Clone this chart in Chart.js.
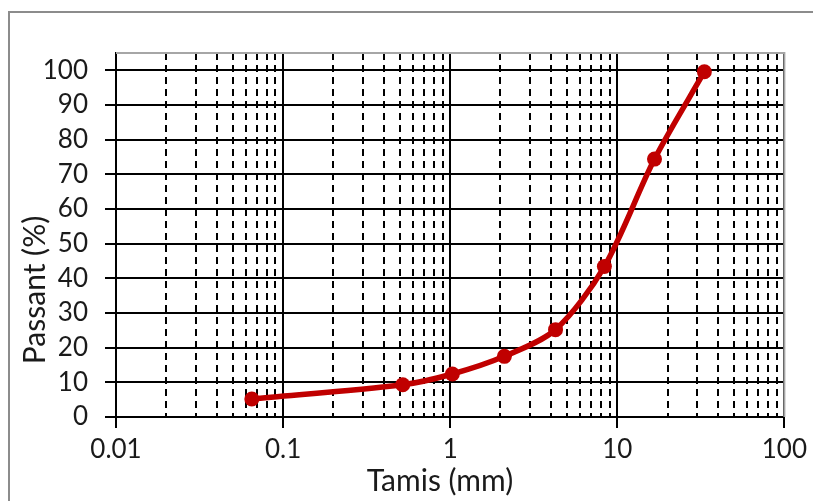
<!DOCTYPE html>
<html>
<head>
<meta charset="utf-8">
<script src="https://cdn.jsdelivr.net/npm/chart.js@4.4.1/dist/chart.umd.min.js"></script>
<style>
  body { margin: 0; background: #fff; }
  #wrap { position: relative; width: 813px; height: 501px; overflow: hidden; }
  #frame { position: absolute; left: 8px; top: 11px; width: 900px; height: 600px; border: 2px solid #8c8c8c; }
  canvas { position: absolute; left: 0; top: 0; }
</style>
</head>
<body>
<div id="wrap">
  <div id="frame"></div>
  <canvas id="chart" width="813" height="501"></canvas>
</div>
<script>
// sieve opening (mm) and percent passing
const sieveSizes = [0.065, 0.52, 1.03, 2.11, 4.27, 8.37, 16.7, 33.2];
const passing = [5.2, 9.3, 12.4, 17.5, 25.2, 43.4, 74.4, 99.6];
const xTickLabels = ['0.01', '0.1', '1', '10', '100'];
const yTicks = [0, 10, 20, 30, 40, 50, 60, 70, 80, 90, 100];

const decades = xTickLabels.map(Number);
const minorTicks = [];
decades.slice(0, -1).forEach(d => {
  for (let k = 2; k <= 9; k++) minorTicks.push(+(d * k).toPrecision(3));
});

const FONT = 'Lato, "Liberation Sans", sans-serif';
const TEXT = '#1a1a1a';

const plotFrame = {
  id: 'plotFrame',
  beforeDatasetsDraw(chart) {
    const { ctx, chartArea: { left, top, right, bottom } } = chart;
    ctx.save();
    ctx.strokeStyle = '#a6a6a6';
    ctx.lineWidth = 2;
    ctx.beginPath();
    ctx.moveTo(left, top);
    ctx.lineTo(right, top);
    ctx.lineTo(right, bottom);
    ctx.stroke();
    ctx.restore();
  },
  afterDraw(chart) {
    const ctx = chart.ctx;
    ctx.save();
    ctx.fillStyle = TEXT;
    ctx.font = '30px ' + FONT;
    ctx.textAlign = 'center';
    ctx.textBaseline = 'middle';
    ctx.fillText('Tamis (mm)', 440, 481);
    ctx.translate(35, 290);
    ctx.rotate(-Math.PI / 2);
    ctx.fillText('Passant (%)', 0, 0);
    ctx.restore();
  }
};

new Chart(document.getElementById('chart'), {
  type: 'scatter',
  data: {
    datasets: [{
      data: sieveSizes.map((x, i) => ({ x, y: passing[i] })),
      showLine: true,
      borderColor: '#c00000',
      backgroundColor: '#c00000',
      borderWidth: 5.5,
      pointRadius: 7.5,
      pointHoverRadius: 7.5,
      pointBorderWidth: 0,
      tension: 0.3
    }]
  },
  options: {
    responsive: false,
    animation: false,
    layout: { padding: { top: 53, right: 28, left: 0, bottom: 0 } },
    plugins: { legend: { display: false }, tooltip: { enabled: false } },
    scales: {
      x: {
        type: 'logarithmic',
        position: 'bottom',
        min: 0.01,
        max: 100,
        afterBuildTicks: s => { s.ticks = decades.map(v => ({ value: v })); },
        afterFit: s => { s.height = 84; },
        ticks: {
          callback: (v, i) => xTickLabels[i],
          font: { family: FONT, size: 26 },
          color: TEXT,
          padding: 6,
          maxRotation: 0,
          autoSkip: false
        },
        grid: { color: '#000', lineWidth: 2, tickLength: 11 },
        border: { color: '#000', width: 2 }
      },
      xMinor: {
        type: 'logarithmic',
        position: 'bottom',
        min: 0.01,
        max: 100,
        afterBuildTicks: s => { s.ticks = minorTicks.map(v => ({ value: v })); },
        afterFit: s => { s.height = 0; },
        ticks: { display: false },
        grid: { color: '#000', lineWidth: 2, drawTicks: false },
        border: { display: false, dash: [7, 5] }
      },
      y: {
        min: 0,
        max: 105,
        afterBuildTicks: s => { s.ticks = yTicks.map(v => ({ value: v })); },
        afterFit: s => { s.width = 116; },
        ticks: {
          font: { family: FONT, size: 26 },
          color: TEXT,
          padding: 17,
          autoSkip: false
        },
        grid: { color: '#000', lineWidth: 2, tickLength: 11 },
        border: { color: '#000', width: 2 }
      }
    }
  },
  plugins: [plotFrame]
});
</script>
</body>
</html>
